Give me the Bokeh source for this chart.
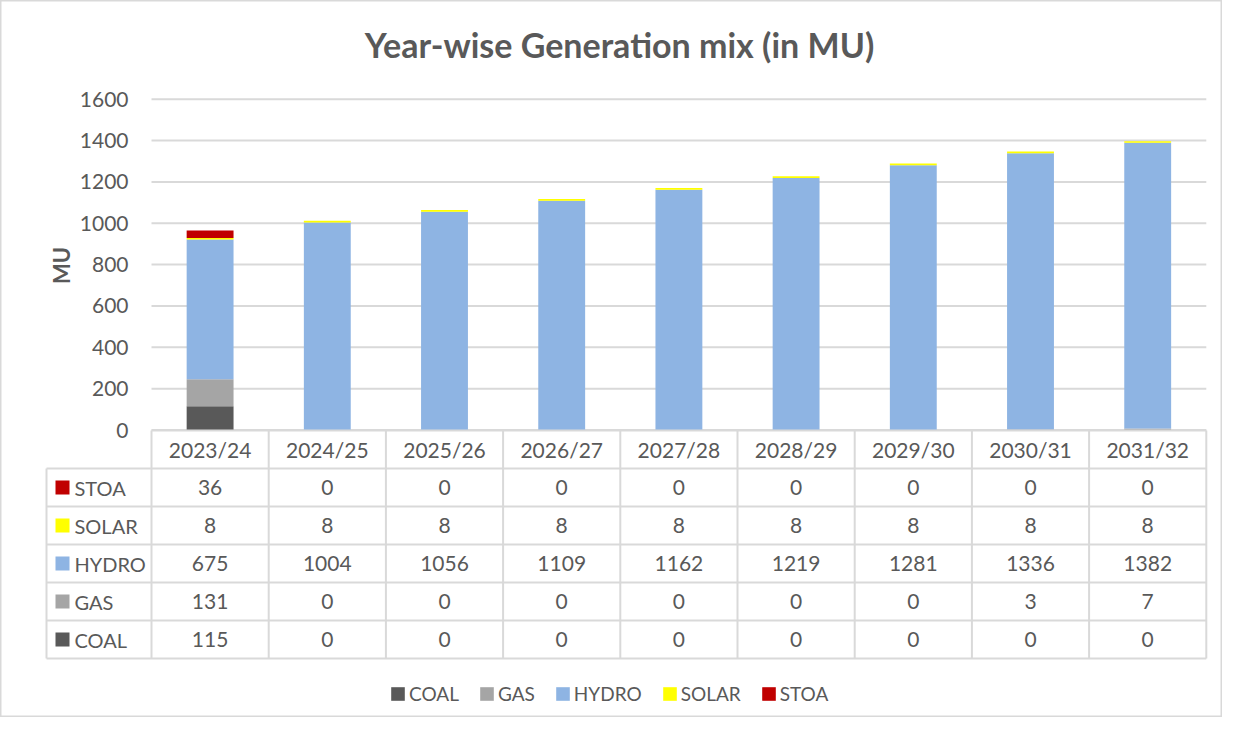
from math import pi
from bokeh.plotting import figure
from bokeh.models import Range1d, Legend, LegendItem, ColumnDataSource
from bokeh.core.properties import value
from bokeh.embed import file_html
from bokeh.resources import INLINE

# ---------------- data ----------------
years = ["2023/24", "2024/25", "2025/26", "2026/27", "2027/28",
         "2028/29", "2029/30", "2030/31", "2031/32"]
coal = [115, 0, 0, 0, 0, 0, 0, 0, 0]
gas = [131, 0, 0, 0, 0, 0, 0, 3, 7]
hydro = [675, 1004, 1056, 1109, 1162, 1219, 1281, 1336, 1382]
solar = [8, 8, 8, 8, 8, 8, 8, 8, 8]
stoa = [36, 0, 0, 0, 0, 0, 0, 0, 0]
series_names = ["COAL", "GAS", "HYDRO", "SOLAR", "STOA"]
series_colors = ["#595959", "#a5a5a5", "#8eb4e3", "#ffff00", "#c00000"]
y_ticks = [0, 200, 400, 600, 800, 1000, 1200, 1400, 1600]
title_text = "Year-wise Generation mix (in MU)"
y_label = "MU"

series_values = {"COAL": coal, "GAS": gas, "HYDRO": hydro, "SOLAR": solar, "STOA": stoa}
table_order = ["STOA", "SOLAR", "HYDRO", "GAS", "COAL"]

# ---------------- layout (reference pixel geometry) ----------------
W, H = 1222, 717
X0_PX = 151.0      # px of category axis start
COL_PX = 117.2     # px per category
Y0_PX = 429.5      # px of value 0
PX_PER_UNIT = 330.8 / 1600.0

FONT = "Lato"
TXT = "#595959"
GRID = "#d9d9d9"


def xd(px):
    return (px - X0_PX) / COL_PX


def yd(py):
    return (Y0_PX - py) / PX_PER_UNIT


p = figure(width=W, height=H, output_backend="svg", toolbar_location=None,
           x_range=Range1d(xd(0), xd(W)), y_range=Range1d(yd(H), yd(0)),
           x_axis_location=None, y_axis_location=None, title=None, min_border=0,
           tools="")
p.xgrid.visible = False
p.ygrid.visible = False
p.outline_line_color = GRID
p.outline_line_width = 2
p.background_fill_color = "white"
p.border_fill_color = "white"

n = len(years)

# gridlines
p.segment(x0=[0] * len(y_ticks), y0=y_ticks, x1=[n] * len(y_ticks), y1=y_ticks,
          line_color=GRID, line_width=2)

# stacked bars
src = ColumnDataSource(dict(x=[i + 0.5 for i in range(n)], **series_values))
bars = p.vbar_stack(series_names, x="x", width=0.4, source=src,
                    fill_color=series_colors, line_color=None)

# y tick labels
p.text(x=[xd(128)] * len(y_ticks), y=y_ticks, text=[str(t) for t in y_ticks],
       text_align="right", text_baseline="middle", text_font=value(FONT),
       text_font_size="21px", text_color=TXT)

# y axis label
p.text(x=[xd(61)], y=[yd(265)], text=[y_label], angle=pi / 2,
       text_align="center", text_baseline="alphabetic", text_font=value(FONT),
       text_font_size="22px", text_font_style="bold", text_color=TXT)

# title
p.text(x=[xd(619)], y=[yd(44)], text=[title_text], text_align="center",
       text_baseline="middle", text_font=value(FONT), text_font_size="34px",
       text_font_style="bold", text_color=TXT)

# ---------------- data table ----------------
ROW_TOP = 430.0
ROW_H = 38.0
LEFT_PX = 46.0
nrows = len(table_order) + 1
row_edges = [ROW_TOP + ROW_H * k for k in range(nrows + 1)]

# horizontal lines
hx0 = [0] + [xd(LEFT_PX)] * (len(row_edges) - 1)
p.segment(x0=hx0, y0=[yd(e) for e in row_edges], x1=[n] * len(row_edges),
          y1=[yd(e) for e in row_edges], line_color=GRID, line_width=2)
# vertical lines
vx = list(range(n + 1)) + [xd(LEFT_PX)]
vy0 = [yd(row_edges[0])] * (n + 1) + [yd(row_edges[1])]
vy1 = [yd(row_edges[-1])] * (n + 2)
p.segment(x0=vx, y0=vy0, x1=vx, y1=vy1, line_color=GRID, line_width=2)

# header
p.text(x=[i + 0.5 for i in range(n)], y=[yd(ROW_TOP + ROW_H / 2)] * n, text=years,
       text_align="center", text_baseline="middle", text_font=value(FONT),
       text_font_size="21px", text_color=TXT)

for r, name in enumerate(table_order):
    cy = yd(ROW_TOP + ROW_H * (r + 1) + ROW_H / 2)
    vals = series_values[name]
    p.text(x=[i + 0.5 for i in range(n)], y=[cy] * n, text=[str(v) for v in vals],
           text_align="center", text_baseline="middle", text_font=value(FONT),
           text_font_size="21px", text_color=TXT)
    col = series_colors[series_names.index(name)]
    p.scatter(x=[xd(62)], y=[cy], marker="square", size=14, fill_color=col,
              line_color=None)
    p.text(x=[xd(74)], y=[cy], text=[name], text_align="left", text_baseline="middle",
           text_font=value(FONT), text_font_size="20px", text_color=TXT)

# ---------------- legend ----------------
legend = Legend(items=[LegendItem(label=nm, renderers=[r]) for nm, r in zip(series_names, bars)],
                orientation="horizontal", location=(389, 12), padding=0, margin=0,
                spacing=19, label_standoff=3, glyph_width=17, glyph_height=17,
                label_text_font=FONT, label_text_font_size="19px", label_text_color=TXT,
                border_line_color=None, background_fill_alpha=0)
p.add_layout(legend, "center")

open("out.html", "w").write(file_html(p, INLINE))
